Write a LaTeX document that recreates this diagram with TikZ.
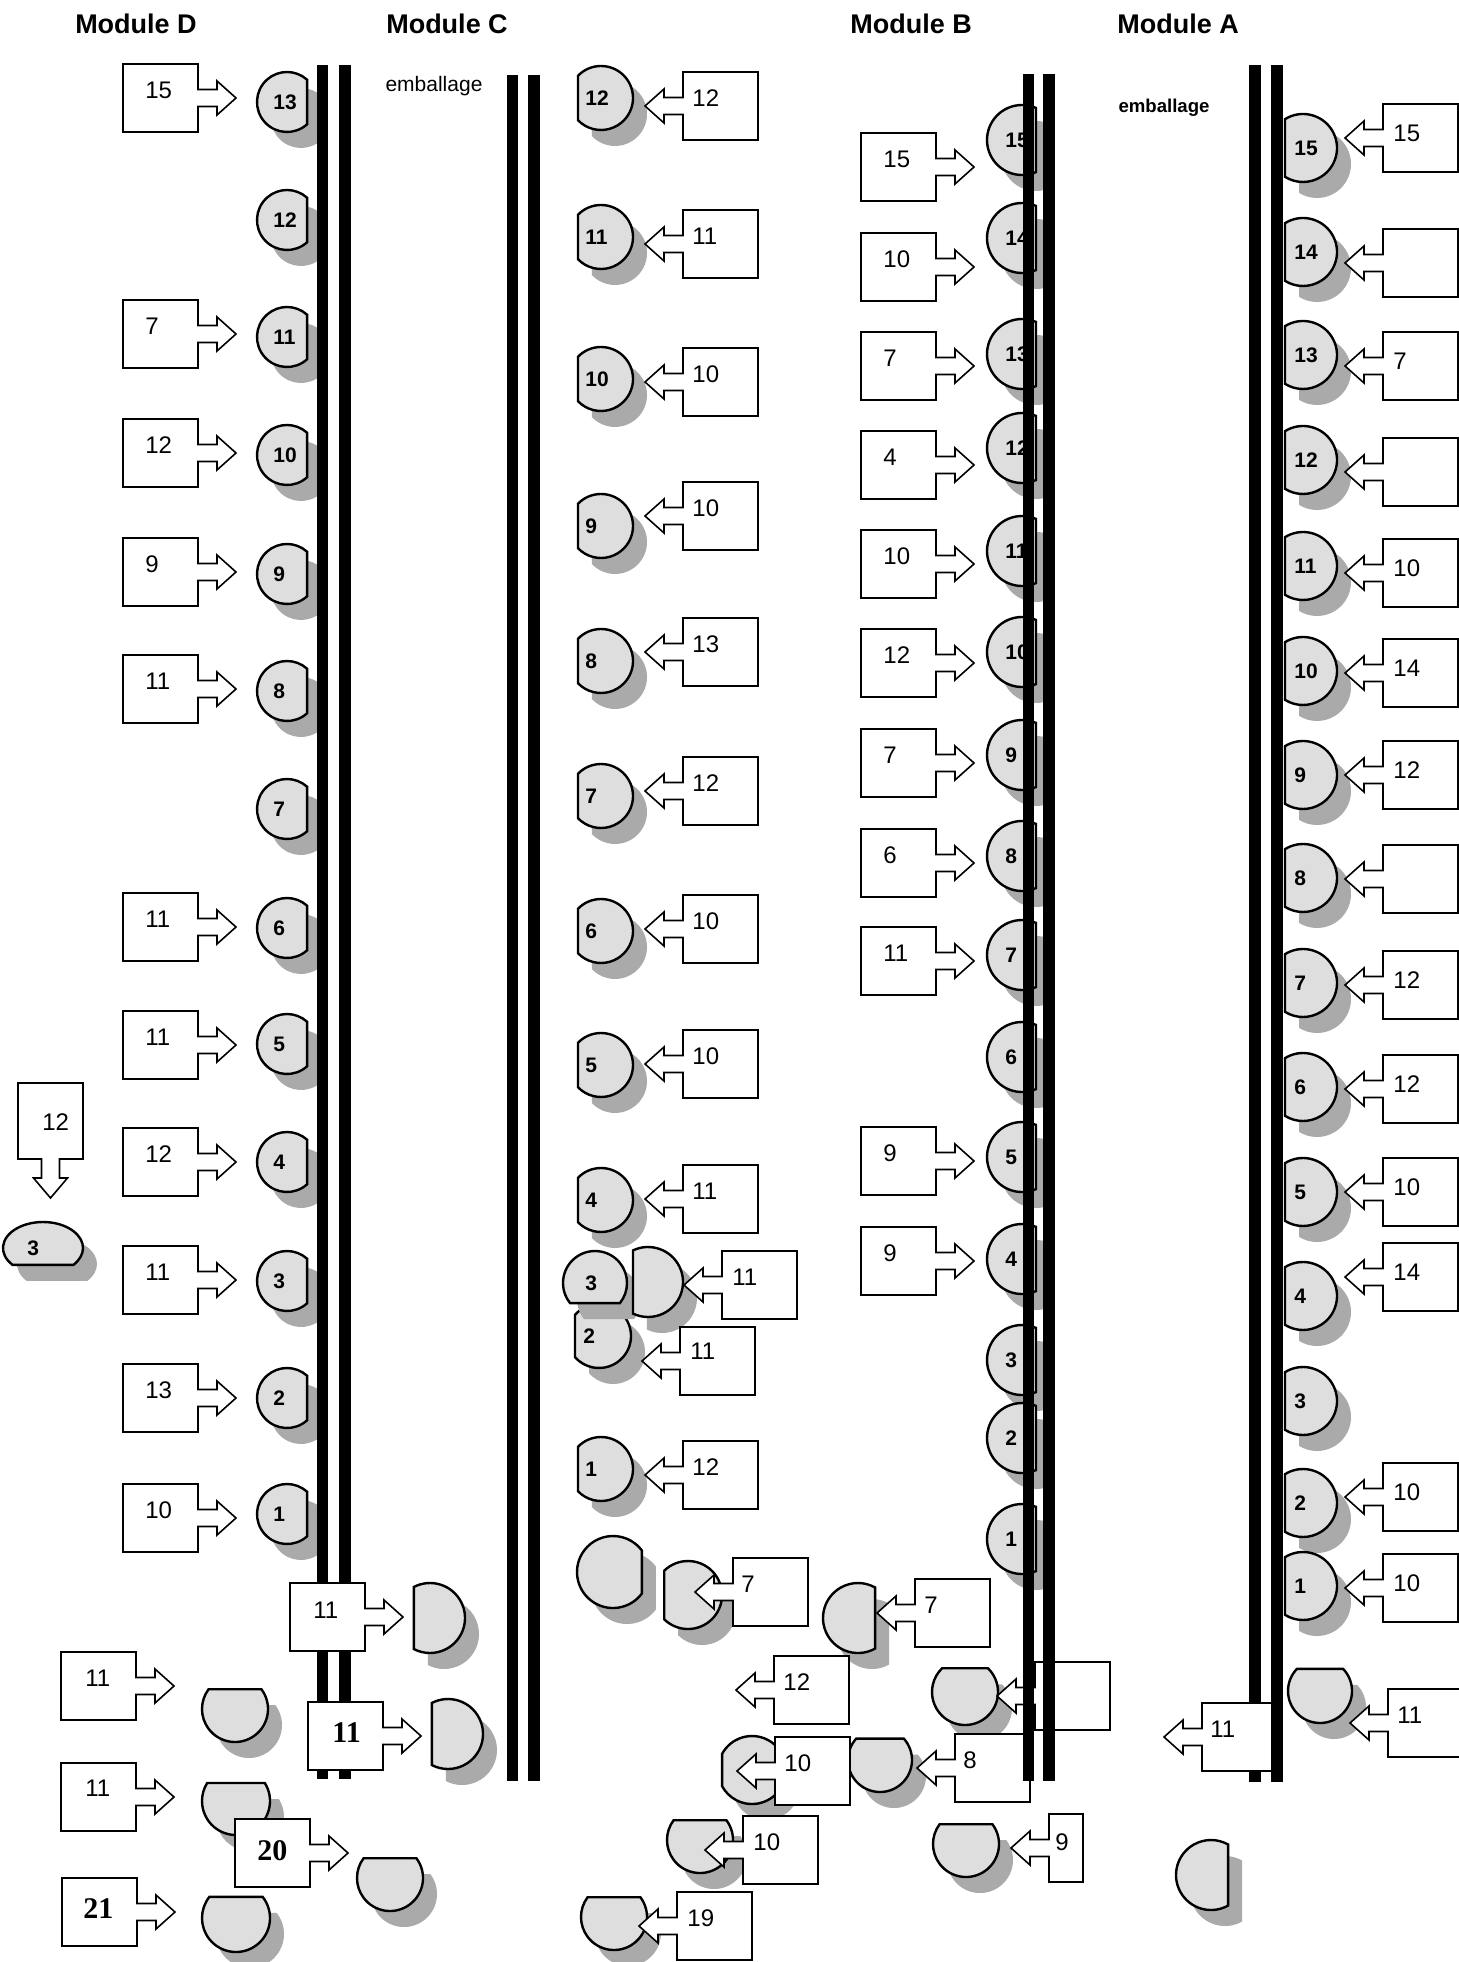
\documentclass[tikz,border=0pt]{standalone}
\usepackage{fontspec}
\setmainfont{Liberation Sans}
\newfontfamily\serifbf{Liberation Serif}
\definecolor{opgrey}{RGB}{222,222,222}
\definecolor{shgrey}{RGB}{170,170,170}
\tikzset{
  conv/.style={line width=5.75pt},
  boxst/.style={draw=black, fill=white, line width=0.8pt, line join=miter},
  opst/.style={draw=black, fill=opgrey, line width=1.2pt},
  shadowst/.style={fill=shgrey},
  num/.style={font=\fontsize{12}{14}\selectfont, inner sep=0pt, anchor=west},
  snum/.style={font=\serifbf\bfseries\fontsize{15}{17}\selectfont, inner sep=0pt, anchor=west},
  opnum/.style={font=\bfseries\fontsize{10.5}{12}\selectfont, inner sep=0pt, anchor=west},
  head/.style={font=\bfseries\fontsize{13.5}{15}\selectfont, inner sep=0pt},
}
% operator: name, x, y, rx, ry, theta (normal of flat side), cos of half-angle, label, label dx
\newcommand\oper[9]{%
  \pgfmathsetmacro\oA{acos(#7)}%
  \pgfmathsetmacro\oS{#6+\oA}%
  \pgfmathsetmacro\oE{#6+360-\oA}%
  \pgfmathsetmacro\oX{#2+#4*cos(\oS)}%
  \pgfmathsetmacro\oY{#3+#5*sin(\oS)}%
  \fill[shadowst] ({\oX+14},{\oY+16}) arc[start angle=\oS,end angle=\oE,x radius=#4,y radius=#5] -- cycle;
  \draw[opst] (\oX,\oY) arc[start angle=\oS,end angle=\oE,x radius=#4,y radius=#5] -- cycle;
  \node[opnum] (#1) at ({#2+(#9)},#3) {#8};
}
% right-pointing box: [style] name, xleft, ycenter, label, dx, dy
\newcommand\rbox[7][num]{%
  \draw[boxst] (#3,{#4-34}) -- ++(75,0) -- ++(0,25.5) -- ++(19,0) -- ++(0,-8.5) -- ++(19,17)
     -- ++(-19,17) -- ++(0,-8.5) -- ++(-19,0) -- ++(0,25.5) -- ++(-75,0) -- cycle;
  \node[#1] (#2) at ({#3+(#6)},{#4+(#7)}) {#5};
}
% left-pointing box: [style] name, xleft (box edge), ycenter, label, dx, dy
\newcommand\lbox[7][num]{%
  \draw[boxst] (#3,{#4-34}) -- ++(75,0) -- ++(0,68) -- ++(-75,0) -- ++(0,-25.5) -- ++(-19,0)
     -- ++(0,8.5) -- ++(-19,-17) -- ++(19,-17) -- ++(0,8.5) -- ++(19,0) -- cycle;
  \node[#1] (#2) at ({#3+(#6)},{#4+(#7)}) {#5};
}
\begin{document}
\begin{tikzpicture}[x=0.5pt,y=-0.5pt]
\useasboundingbox (0,0) rectangle (1459,1962);
\fill[white] (0,0) rectangle (1459,1962);

% headings
\node[head] (hD) at (136,24) {Module D};
\node[head] (hC) at (447,24) {Module C};
\node[head] (hB) at (911,24) {Module B};
\node[head] (hA) at (1178,24) {Module A};
\node[font=\fontsize{10.5}{12}\selectfont, inner sep=0pt] (embC) at (434,86) {emballage};
\node[font=\bfseries\fontsize{9.3}{11}\selectfont, inner sep=0pt] (embA) at (1164,108) {emballage};

% ---------- operators ----------
\foreach \n/\y in {13/102,12/220,11/337,10/455,9/574,8/691,7/809,6/928,5/1044,4/1162,3/1281,2/1398,1/1514}
  {\oper{dop\n}{287}{\y}{30}{30}{0}{0.67}{\n}{-14}}
\foreach \n/\y in {12/98,11/237,10/379,9/526,8/661,7/796,6/931,5/1065,4/1200,1/1469}
  {\oper{cop\n}{601}{\y}{32}{32}{180}{0.72}{\n}{-16}}
\oper{cop2}{599}{1336}{32}{32}{180}{0.75}{2}{-16}
\oper{cop3}{595}{1283}{32}{32}{90}{0.63}{3}{-10}
\oper{copx}{648}{1282}{35}{35}{180}{0.43}{}{0}
\oper{copa}{613}{1572}{36}{36}{0}{0.8}{}{0}
\oper{copb}{688}{1595}{34}{34}{180}{0.7}{}{0}
\foreach \n/\y in {15/140,14/238,13/354,12/448,11/551,10/652,9/755,8/856,7/955,6/1057,5/1157,4/1259,3/1360,2/1438,1/1539}
  {\oper{bop\n}{1022}{\y}{35}{35}{0}{0.4}{\n}{-17}}
\foreach \n/\y in {15/148,14/252,13/355,12/460,11/566,10/671,9/775,8/878,7/983,6/1087,5/1192,4/1296,3/1401,2/1503,1/1586}
  {\oper{aop\n}{1303}{\y}{34}{34}{180}{0.53}{\n}{-9}}
\oper{bopsa}{858}{1618}{35}{35}{0}{0.49}{}{0}
\oper{bopsb}{752}{1770}{34}{34}{180}{0.88}{}{0}
\oper{bopsc}{880}{1760}{32}{32}{270}{0.67}{}{0}
\oper{bopsd}{965}{1692}{33}{33}{270}{0.72}{}{0}
\oper{bopse}{700}{1840}{33}{33}{270}{0.6}{}{0}
\oper{bopsf}{614}{1917}{33}{33}{270}{0.6}{}{0}
\oper{bopsg}{966}{1844}{33}{33}{270}{0.6}{}{0}
\oper{aopsa}{1320}{1691}{32}{32}{270}{0.69}{}{0}
\oper{aopsb}{1211}{1875}{35}{35}{0}{0.49}{}{0}
\oper{dopsa}{430}{1618}{35}{35}{180}{0.46}{}{0}
\oper{dopsb}{448}{1734}{35}{35}{180}{0.46}{}{0}
\oper{dopsc}{235}{1709}{33}{33}{270}{0.6}{}{0}
\oper{dopsd}{236}{1801}{34}{34}{270}{0.53}{}{0}
\oper{dopse}{236}{1918}{34}{34}{270}{0.62}{}{0}
\oper{dopsf}{390}{1878}{33}{33}{270}{0.6}{}{0}
\oper{dopsg}{43}{1248}{40}{26}{90}{0.65}{3}{-16}

% ---------- boxes ----------
\foreach \t/\y [count=\i] in {15/98,7/334,12/453,9/572,11/689,11/927,11/1045,12/1162,11/1280,13/1398,10/1518}
  {\rbox{dbox\i}{123}{\y}{\t}{22}{-8}}
\foreach \t/\y [count=\i] in {12/106,11/244,10/382,10/516,13/652,12/791,10/929,10/1064,11/1199,12/1475}
  {\lbox{cbox\i}{683}{\y}{\t}{9}{-8}}
\lbox{cboxx}{722}{1285}{11}{10}{-8}
\lbox{cboxy}{680}{1361}{11}{10}{-10}
\lbox{cboxz}{733}{1592}{7}{8}{-8}
\foreach \t/\y [count=\i] in {15/167,10/267,7/366,4/465,10/564,12/663,7/763,6/863,11/961,9/1161,9/1261}
  {\rbox{bbox\i}{861}{\y}{\t}{22}{-8}}
\lbox{bboxa}{915}{1613}{7}{9}{-8}
\lbox{bboxb}{774}{1690}{12}{9}{-8}
\lbox{bboxc}{775}{1771}{10}{9}{-8}
\lbox{bboxd}{955}{1768}{8}{8}{-8}
\lbox{bboxe}{1035}{1696}{}{9}{-8}
\lbox{bboxf}{743}{1850}{10}{10}{-8}
\lbox{bboxg}{677}{1926}{19}{10}{-8}
% narrow box "9" at the bottom of module B
\draw[boxst] (1049,1814) -- (1083,1814) -- (1083,1882) -- (1049,1882) -- (1049,1856.5) -- (1030,1856.5)
  -- (1030,1865) -- (1011,1848) -- (1030,1831) -- (1030,1839.5) -- (1049,1839.5) -- cycle;
\node[num] (bboxh) at (1055,1842) {9};
\foreach \t/\y [count=\i] in {15/138,{}/263,7/366,{}/472,10/573,14/673,12/775,{}/879,12/985,12/1089,10/1192,14/1277,10/1497,10/1588}
  {\lbox{abox\i}{1383}{\y}{\t}{10}{-5}}
\lbox{aboxa}{1388}{1723}{11}{9}{-8}
\rbox{dboxc}{61}{1686}{11}{24}{-8}
\rbox{dboxd}{61}{1797}{11}{24}{-9}
\rbox[snum]{dboxe}{235}{1853}{20}{22}{-2}
\rbox[snum]{dboxf}{62}{1912}{21}{21}{-3}
% downward box at far left
\draw[boxst] (18,1083) -- (83,1083) -- (83,1159) -- (59.5,1159) -- (59.5,1178) -- (67.5,1178)
  -- (50.5,1198) -- (33.5,1178) -- (41.5,1178) -- (41.5,1159) -- (18,1159) -- cycle;
\node[num] (dboxg) at (42,1122) {12};

% ---------- conveyors ----------
\draw[conv] (512.5,75) -- (512.5,1781);
\draw[conv] (534,75) -- (534,1781);
\draw[conv] (1028.5,74) -- (1028.5,1781);
\draw[conv] (1049,74) -- (1049,1781);
\draw[conv] (322.5,65) -- (322.5,1779);
\draw[conv] (345,65) -- (345,1779);
\draw[conv] (1255,65) -- (1255,1782);
\lbox{aboxb}{1202}{1737}{11}{8}{-8}
\draw[conv] (1277,65) -- (1277,1782);
\rbox{dboxa}{290}{1617}{11}{23}{-7}
\rbox[snum]{dboxb}{308}{1736}{11}{24}{-3}
\end{tikzpicture}
\end{document}
